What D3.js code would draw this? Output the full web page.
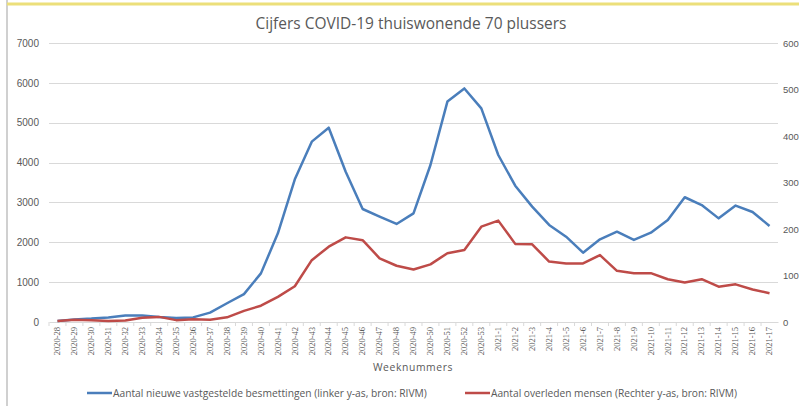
<!DOCTYPE html>
<html>
<head>
<meta charset="utf-8">
<script src="https://cdn.jsdelivr.net/npm/d3@7"></script>
<style>
  body { margin: 0; background: #fff; overflow: hidden; }
  svg { display: block; }
</style>
</head>
<body>
<div id="chart"></div>
<script>
// week labels
const weeks = [
  "2020-28","2020-29","2020-30","2020-31","2020-32","2020-33","2020-34","2020-35","2020-36","2020-37",
  "2020-38","2020-39","2020-40","2020-41","2020-42","2020-43","2020-44","2020-45","2020-46","2020-47",
  "2020-48","2020-49","2020-50","2020-51","2020-52","2020-53","2021-1","2021-2","2021-3","2021-4",
  "2021-5","2021-6","2021-7","2021-8","2021-9","2021-10","2021-11","2021-12","2021-13","2021-14",
  "2021-15","2021-16","2021-17"
];

// new confirmed infections (left axis)
const infections = [
  25, 65, 85, 115, 165, 165, 125, 100, 115, 235,
  470, 700, 1220, 2225, 3580, 4525, 4875, 3770, 2835, 2645,
  2460, 2725, 3940, 5530, 5860, 5360, 4190, 3420, 2895, 2435,
  2140, 1740, 2075, 2265, 2060, 2240, 2560, 3130, 2935, 2600,
  2920, 2760, 2410
];

// deaths (right axis)
const deaths = [
  2, 5, 4, 2, 3, 9, 11, 4, 6, 5,
  10, 24, 35, 54, 77, 133, 162, 182, 176, 137,
  121, 113, 124, 148, 155, 205, 218, 168, 167, 130,
  126, 126, 144, 110, 105, 105, 92, 85, 92, 76,
  81, 70, 62
];

const leftTicks = [0, 1000, 2000, 3000, 4000, 5000, 6000, 7000];
const rightTicks = [0, 100, 200, 300, 400, 500, 600];

const titleText = "Cijfers COVID-19 thuiswonende 70 plussers";
const xTitle = "Weeknummers";
const legendItems = [
  { name: "Aantal nieuwe vastgestelde besmettingen (linker y-as, bron: RIVM)", color: "#4A7EBB" },
  { name: "Aantal overleden mensen (Rechter y-as, bron: RIVM)", color: "#BE4B48" }
];

const width = 799;
const height = 406;
const marginLeft = 49;
const marginRight = 21;
const marginTop = 43;
const plotBottom = 322;
const textColor = "#595959";

const svg = d3.select("#chart")
  .append("svg")
  .attr("width", width)
  .attr("height", height)
  .attr("viewBox", [0, 0, width, height]);

// frame bits from the screenshot
svg.append("line")
  .attr("x1", 7).attr("x2", 7).attr("y1", 0).attr("y2", height)
  .attr("stroke", "#d0d0d0").attr("stroke-width", 2);
svg.append("line")
  .attr("x1", 7).attr("x2", width).attr("y1", 4).attr("y2", 4)
  .attr("stroke", "#ecdf7a").attr("stroke-width", 3);

const x = d3.scaleBand()
  .domain(weeks)
  .range([marginLeft, width - marginRight]);

const yLeft = d3.scaleLinear()
  .domain([0, 7000])
  .range([plotBottom, marginTop]);

const yRight = d3.scaleLinear()
  .domain([0, 600])
  .range([plotBottom, marginTop]);

// grid lines
svg.append("g")
  .attr("stroke", "#d9d9d9")
  .selectAll()
  .data(leftTicks.slice(1))
  .join("line")
  .attr("x1", marginLeft)
  .attr("x2", width - marginRight)
  .attr("y1", d => Math.round(yLeft(d)) + 0.5)
  .attr("y2", d => Math.round(yLeft(d)) + 0.5);

// left axis
svg.append("g")
  .attr("transform", `translate(${marginLeft - 10},0)`)
  .call(d3.axisLeft(yLeft).tickValues(leftTicks).tickFormat(d3.format("d")).tickSize(0).tickPadding(0))
  .call(g => g.select(".domain").remove())
  .call(g => g.selectAll("text")
    .attr("fill", textColor)
    .attr("font-family", "Liberation Sans, Arial, sans-serif")
    .attr("font-size", 10));

// right axis, pushed to the window edge
svg.append("g")
  .attr("transform", `translate(${width - marginRight + 5},0)`)
  .call(d3.axisRight(yRight).tickValues(rightTicks).tickFormat(d3.format("d")).tickSize(0).tickPadding(0))
  .call(g => g.select(".domain").remove())
  .call(g => g.selectAll("text")
    .attr("fill", textColor)
    .attr("font-family", "Liberation Sans, Arial, sans-serif")
    .attr("font-size", 9.5));

// x axis
const xAxis = svg.append("g")
  .attr("transform", `translate(0,${plotBottom})`)
  .call(d3.axisBottom(x).tickSize(0).tickPadding(0));
xAxis.select(".domain").attr("stroke", "#d9d9d9");
xAxis.selectAll(".tick text")
  .attr("fill", textColor)
  .attr("font-family", "Liberation Serif, Times New Roman, serif")
  .attr("font-size", 8.5)
  .attr("transform", "rotate(-90)")
  .attr("text-anchor", "end")
  .attr("x", -5)
  .attr("y", 0)
  .attr("dy", "0.32em");

// little tick marks between the weeks
svg.append("g")
  .attr("stroke", "#d9d9d9")
  .selectAll()
  .data(weeks)
  .join("line")
  .attr("x1", d => x(d))
  .attr("x2", d => x(d))
  .attr("y1", plotBottom)
  .attr("y2", plotBottom + 4);

// lines
const lineLeft = d3.line()
  .x((d, i) => x(weeks[i]) + x.bandwidth() / 2)
  .y(d => yLeft(d));

const lineRight = d3.line()
  .x((d, i) => x(weeks[i]) + x.bandwidth() / 2)
  .y(d => yRight(d));

svg.append("path")
  .datum(infections)
  .attr("fill", "none")
  .attr("stroke", legendItems[0].color)
  .attr("stroke-width", 2.5)
  .attr("stroke-linejoin", "round")
  .attr("d", lineLeft);

svg.append("path")
  .datum(deaths)
  .attr("fill", "none")
  .attr("stroke", legendItems[1].color)
  .attr("stroke-width", 2.5)
  .attr("stroke-linejoin", "round")
  .attr("d", lineRight);

// shrink/grow font so the text spans the width seen in the picture
function fitText(text, targetWidth) {
  const size = parseFloat(text.attr("font-size"));
  const w = text.node().getComputedTextLength();
  text.attr("font-size", size * targetWidth / w);
}

// title
svg.append("text")
  .attr("x", 411)
  .attr("y", 29)
  .attr("text-anchor", "middle")
  .attr("fill", textColor)
  .attr("font-family", "Open Sans, sans-serif")
  .attr("font-size", 14)
  .text(titleText)
  .call(fitText, 311);

// axis title
svg.append("text")
  .attr("x", 413)
  .attr("y", 371)
  .attr("text-anchor", "middle")
  .attr("fill", textColor)
  .attr("font-family", "Open Sans, sans-serif")
  .attr("font-size", 11)
  .attr("letter-spacing", 0.6)
  .text(xTitle)
  .call(fitText, 80);

// legend
const legendX = [87, 465];
const legendTextW = [314, 246];
const legend = svg.append("g")
  .selectAll()
  .data(legendItems)
  .join("g")
  .attr("transform", (d, i) => `translate(${legendX[i]},393)`);

legend.append("line")
  .attr("x1", 0).attr("x2", 25)
  .attr("stroke", d => d.color)
  .attr("stroke-width", 2.5);

legend.append("text")
  .attr("x", 26)
  .attr("dy", "0.35em")
  .attr("fill", textColor)
  .attr("font-family", "Open Sans, sans-serif")
  .attr("font-size", 10)
  .text(d => d.name)
  .each(function(d, i) { fitText(d3.select(this), legendTextW[i]); });
</script>
</body>
</html>
